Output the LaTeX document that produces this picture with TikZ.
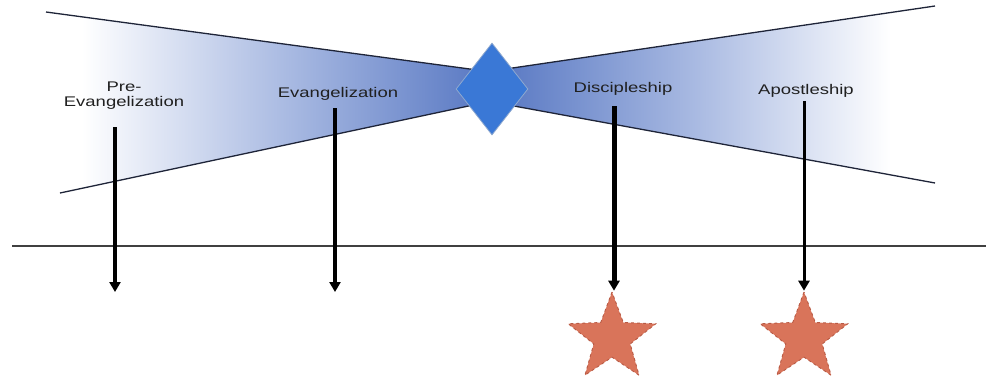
\documentclass[tikz,border=0pt]{standalone}
\usepackage{fontspec}
\setmainfont{Liberation Sans}
\usetikzlibrary{arrows.meta,shapes.geometric}
\definecolor{wedgeblue}{HTML}{5676C2}
\definecolor{wedgemid}{HTML}{A9BAE2}
\definecolor{edgeline}{HTML}{1E2438}
\definecolor{gemtop}{HTML}{3A78D6}
\definecolor{gemmid}{HTML}{74A8EC}
\definecolor{gemedge}{HTML}{8FA9CF}
\definecolor{starfill}{HTML}{D9745A}
\definecolor{starline}{HTML}{B85A44}
\definecolor{labeltext}{HTML}{202020}
% fades: the path spans 25bp..75bp of the shading
\pgfdeclarehorizontalshading{fadein}{100bp}{color(0bp)=(white); color(29bp)=(white);
  color(52bp)=(wedgemid); color(75bp)=(wedgeblue); color(100bp)=(wedgeblue)}
\pgfdeclarehorizontalshading{fadeout}{100bp}{color(0bp)=(wedgeblue); color(25bp)=(wedgeblue);
  color(48bp)=(wedgemid); color(70bp)=(white); color(100bp)=(white)}
\tikzset{
  stagelabel/.style={text=labeltext, align=center, inner sep=0pt,
    font=\fontsize{14}{15}\selectfont},
  downarrow/.style={draw=black, -{Triangle[width=11pt,length=10pt]}},
  goalstar/.style={star, star points=5, star point ratio=2.4, minimum size=92pt,
    inner sep=0pt, fill=starfill, draw=starline, dashed, line width=0.9pt},
  wedgeedge/.style={draw=edgeline, line width=1.3pt},
}
\newcommand{\wide}[1]{\scalebox{1.32}[1]{#1}}
\begin{document}
\begin{tikzpicture}[x=1pt,y=-1pt]
\useasboundingbox (0,0) rectangle (986,378);

% left (narrowing) wedge
\shade[shading=fadein]
  (46,12) -- (492,72) -- (492,101) -- (60,193) -- cycle;
\draw[wedgeedge] (46,12) -- (492,72);
\draw[wedgeedge] (60,193) -- (492,101);

% right (widening) wedge
\shade[shading=fadeout]
  (492,71) -- (935,6) -- (935,183) -- (492,102) -- cycle;
\draw[wedgeedge] (492,71) -- (935,6);
\draw[wedgeedge] (492,102) -- (935,183);

% central diamond
\node[diamond, minimum width=72pt, minimum height=92pt, inner sep=0pt,
      top color=gemtop, middle color=gemmid, bottom color=gemtop,
      draw=gemedge, line width=0.8pt] (gem) at (492,89) {};

% base line
\coordinate (baseL) at (12,246);
\coordinate (baseR) at (986,246);
\draw[draw=black!75, line width=1.1pt] (baseL) -- (baseR);

% stage labels
\node[stagelabel] (pre) at (124,96) {\wide{Pre-}\\\wide{Evangelization}};
\node[stagelabel] (evan) at (338,94) {\wide{Evangelization}};
\node[stagelabel] (disc) at (623,89) {\wide{Discipleship}};
\node[stagelabel] (apos) at (806,91) {\wide{Apostleship}};

% goal stars
\node[goalstar] (star1) at (612,338) {};
\node[goalstar] (star2) at (804,338) {};

% arrows
\coordinate (preTop) at (115,127);
\coordinate (preEnd) at (115,292);
\coordinate (evanTop) at (335,108);
\coordinate (evanEnd) at (335,292);
\coordinate (discTop) at (614,106);
\coordinate (aposTop) at (804,101);
\draw[downarrow, line width=3.5pt] (preTop) -- (preEnd);
\draw[downarrow, line width=3.8pt] (evanTop) -- (evanEnd);
\draw[downarrow, line width=5pt] (discTop) -- (star1.north -| discTop);
\draw[downarrow, line width=3pt] (aposTop) -- (star2.north);
\end{tikzpicture}
\end{document}
